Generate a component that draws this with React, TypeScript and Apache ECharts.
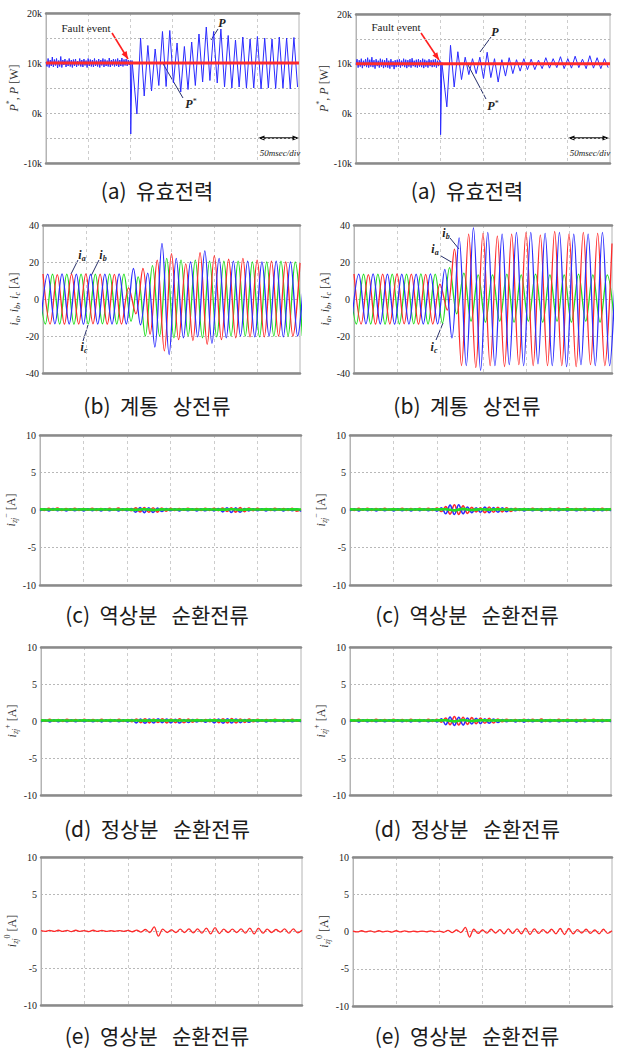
import React, { useEffect, useRef } from "react";
import * as echarts from "echarts";

// ================= DATA =================
// time axis in ms, 50 ms / div
const T_MIN = 0;
const T_MAX = 300;
const T_DIV = 50;

// ---- (a) active power, kW ----
const pRefLeft = [10, 10];
const pRefRight = [10, 10];
// pre-fault ripple of P, 0..100 ms
const pPreLeft = [
  10.2, 9.3, 10.9, 9.1, 10.6, 9.4, 11.2, 9.2, 10.7, 9.5,
  10.9, 9.0, 10.5, 9.3, 11.3, 9.1, 10.6, 9.6, 10.8, 9.2,
  10.5, 9.4, 10.9, 9.3, 10.6, 9.1, 10.7, 9.4, 10.8, 9.2,
  10.4, 9.5, 10.9, 9.3, 10.6, 9.2, 10.8, 9.5, 10.5, 9.1,
  10.9, 9.4, 10.7, 9.3, 10.6, 9.2, 10.9, 9.4, 10.5, 9.3,
  10.8, 9.1, 10.6, 9.5, 10.9, 9.2, 10.7, 9.4, 10.5, 9.3,
  11.0, 9.2, 10.6, 9.5, 10.8, 9.3, 10.7, 9.4, 10.9, 9.2,
  10.6, 9.4, 11.0, 9.3, 10.7, 9.5, 10.8, 9.4, 10.6, 9.6,
  10.5,
];
const pSpikeLeft = [-4.2, 10.5];
// post-fault oscillation extremes of P (trough, peak, ...)
const pPostLeft = [
  -0.2, 15.0, 3.4, 13.5, 4.4, 12.8, 5.5, 16.3, 5.3, 16.5,
  6.0, 14.0, 4.2, 13.3, 4.7, 14.2, 5.5, 15.8, 6.2, 17.2,
  6.5, 16.3, 6.0, 16.8, 5.2, 15.5, 5.0, 14.6, 5.2, 15.2,
  5.0, 14.8, 5.0, 15.3, 4.8, 15.0, 5.0, 14.8, 4.9, 15.2,
  5.0, 15.0, 4.8, 15.1, 5.2,
];
const pPreRight = [
  9.8, 10.9, 9.2, 10.7, 9.4, 11.0, 9.1, 10.6, 9.5, 10.9,
  9.3, 11.2, 9.2, 10.8, 9.4, 11.3, 9.3, 10.7, 9.0, 10.9,
  9.5, 10.6, 9.2, 11.0, 9.4, 10.8, 9.1, 10.7, 9.3, 11.1,
  9.2, 10.6, 9.0, 10.9, 9.4, 10.5, 8.9, 10.7, 9.3, 10.8,
  9.4, 10.9, 9.2, 10.6, 9.5, 11.0, 9.3, 10.8, 9.1, 10.7,
  9.4, 10.9, 9.2, 11.1, 9.5, 10.6, 9.3, 10.8, 9.2, 10.9,
  9.4, 10.7, 9.3, 11.0, 9.1, 10.8, 9.4, 10.6, 9.2, 10.9,
  9.5, 10.7, 9.3, 10.8, 9.4, 10.9, 9.2, 10.6, 9.5, 10.7,
  10.4,
];
const pSpikeRight = [-4.3, 10.2];
const pPostRight = [
  1.3, 13.7, 5.3, 12.4, 6.8, 11.3, 7.8, 11.0, 8.0, 11.3,
  7.0, 12.3, 7.2, 11.0, 6.3, 10.8, 7.5, 11.2, 8.0, 10.8,
  8.5, 11.0, 8.8, 10.9, 8.8, 10.7, 9.0, 11.2, 9.1, 11.0,
  9.2, 11.4, 9.0, 11.0, 9.1, 11.5, 9.2, 10.9, 9.0, 11.6,
  9.1, 11.2, 9.0, 11.0, 9.2,
];
// segment time bounds (ms)
const pPreSpan = [0, 100];
const pSpikeSpanL = [100.5, 102];
const pPostSpanL = [107.8, 298.3];
const pSpikeSpanR = [99.9, 101.4];
const pPostSpanR = [107.3, 297.8];

// ---- (b) grid phase currents, A : successive extremes every half cycle (60 Hz) ----
const iaSpan = [0, 300];
const ibSpan = [-2.78, 305.56];
const icSpan = [-5.56, 302.78];
const iaLeft = [
  13.5, -13.5, 13.2, -13.6, 13.4, -13.5, 13.6, -13.4, 13.5, -13.6, 13.3, -13.5,
  6, -8, 16.5, -19, 21, -28, 24.5, -22, 19, -22.5, 25, -24.5, 23.5, -22, 21.5,
  -21, 22, -20.5, 21, -20.5, 20.5, -20, 20, -20, 19.5,
];
const ibLeft = [
  -13.5, 13.5, -13.4, 13.6, -13.5, 13.4, -13.6, 13.5, -13.5, 13.4, -13.5, 13.6, -13.5,
  16.5, -14, 14, -26, 30, -30, 22, -21, 20, -20.5, 26, -24, 22, -21, 20.5, -20,
  20.5, -20.5, 20, -20, 20.5, -20.5, 20, -20, 20,
];
const icLeft = [
  13.5, -13.5, 13.5, -13.5, 13.4, -13.6, 13.5, -13.5, 13.5, -13.4, 13.6, -13.5, 13.5,
  -12, 12, -20, 18, -20, 22, -21, 21, -20, 21, -21, 20.5, -20.5, 20.5, -20, 20.5,
  -20, 20, -20.5, 20, -20, 20.5, -20, 20, -20,
];
const iaRight = [
  13.5, -13.5, 13.2, -13.6, 13.4, -13.5, 13.6, -13.4, 13.5, -13.6, 13.3, -13.5,
  8, -6, 27, -36, 35, -37, 35.5, -36, 34, -36.5, 35, -35.5, 36, -36, 34.5, -36,
  36.5, -36, 35, -36.5, 36, -35.5, 35.5, -36, 30,
];
const ibRight = [
  -13.5, 13.5, -13.4, 13.6, -13.5, 13.4, -13.6, 13.5, -13.5, 13.4, -13.5, 13.6, -13.5,
  16, -21, 33, -36, 38.5, -38.5, 36, -36, 35, -35.5, 36, -36, 36, -35, 35.5, -36,
  36, -36.5, 35, -35.5, 35, -36, 36, -36, 35,
];
const icRight = [
  13.5, -13.5, 13.5, -13.5, 13.4, -13.6, 13.5, -13.5, 13.5, -13.4, 13.6, -13.5, 13.5,
  -13, 17, -8, 14, -12, 13, -12.5, 13, -12, 13.5, -12.5, 13, -12, 13.5, -12.5, 13,
  -12, 13, -12.5, 13.5, -12, 13, -12.5, 13, -12,
];

// ---- (c),(d) circulating current components, A (samples every 5 ms; green every 10 ms) ----
const circSpan = [0, 300];
const cRedLeft = [
  0.2, -0.05, 0.22, -0.02, 0.25, -0.06, 0.2, -0.03, 0.23, -0.05,
  0.21, -0.02, 0.24, -0.06, 0.2, -0.04, 0.22, -0.03, 0.25, -0.05,
  0.21, -0.08, 0.28, -0.25, 0.32, -0.3, 0.3, -0.28, 0.26, -0.15,
  0.22, -0.05, 0.2, -0.04, 0.23, -0.03, 0.21, -0.06, 0.24, -0.05,
  0.22, -0.08, 0.25, -0.2, 0.3, -0.28, 0.32, -0.22, 0.25, -0.08,
  0.22, -0.04, 0.2, -0.05, 0.23, -0.03, 0.21, -0.06, 0.24, -0.15, 0.1,
];
const cBlueLeft = [
  -0.1, 0.15, -0.12, 0.18, -0.08, 0.14, -0.12, 0.16, -0.1, 0.15,
  -0.12, 0.17, -0.09, 0.15, -0.11, 0.16, -0.1, 0.14, -0.12, 0.15,
  -0.1, 0.2, -0.3, 0.32, -0.35, 0.3, -0.32, 0.25, -0.2, 0.18,
  -0.1, 0.15, -0.12, 0.16, -0.09, 0.15, -0.11, 0.17, -0.1, 0.15,
  -0.12, 0.18, -0.25, 0.3, -0.32, 0.28, -0.3, 0.2, -0.12, 0.15,
  -0.1, 0.16, -0.12, 0.15, -0.09, 0.17, -0.11, 0.15, -0.1, 0.16, -0.2,
];
const cGreenLeft = [
  0.08, 0.06, 0.08, 0.07, 0.06, 0.08, 0.07, 0.08, 0.06, 0.07, 0.08, 0.02, 0.1, 0.0, 0.08,
  0.07, 0.06, 0.08, 0.07, 0.08, 0.06, 0.05, 0.1, 0.02, 0.08, 0.07, 0.08, 0.06, 0.07, 0.08, 0.06,
];
const cRedRight = [
  0.2, -0.05, 0.22, -0.02, 0.24, -0.05, 0.2, -0.03, 0.23, -0.04,
  0.21, -0.03, 0.24, -0.05, 0.2, -0.04, 0.22, -0.03, 0.24, -0.05,
  0.25, -0.2, 0.45, -0.55, 0.7, -0.6, 0.55, -0.45, 0.35, -0.25,
  0.3, -0.35, 0.4, -0.3, 0.35, -0.25, 0.3, -0.2, 0.22, -0.05,
  0.2, -0.04, 0.23, -0.03, 0.21, -0.06, 0.24, -0.05, 0.22, -0.04,
  0.25, -0.03, 0.21, -0.05, 0.23, -0.04, 0.2, -0.06, 0.24, -0.05, 0.2,
];
const cBlueRight = [
  -0.1, 0.15, -0.12, 0.17, -0.09, 0.15, -0.11, 0.16, -0.1, 0.14,
  -0.12, 0.16, -0.1, 0.15, -0.11, 0.17, -0.09, 0.15, -0.1, 0.16,
  -0.15, 0.3, -0.5, 0.65, -0.6, 0.7, -0.5, 0.4, -0.35, 0.3,
  -0.3, 0.38, -0.35, 0.32, -0.3, 0.28, -0.22, 0.2, -0.1, 0.15,
  -0.12, 0.16, -0.1, 0.15, -0.11, 0.17, -0.09, 0.15, -0.1, 0.16,
  -0.12, 0.15, -0.1, 0.17, -0.09, 0.15, -0.11, 0.16, -0.1, 0.15, -0.1,
];
const cGreenRight = [
  0.08, 0.07, 0.08, 0.06, 0.07, 0.08, 0.07, 0.06, 0.08, 0.07, 0.08, 0.1, -0.05, 0.15, 0.0,
  0.1, 0.05, 0.08, 0.06, 0.07, 0.08, 0.07, 0.06, 0.08, 0.07, 0.08, 0.06, 0.07, 0.08, 0.07, 0.08,
];
const dRedLeft = [
  0.2, -0.04, 0.22, -0.03, 0.2, -0.05, 0.23, -0.02, 0.21, -0.04,
  0.22, -0.03, 0.2, -0.05, 0.22, -0.03, 0.21, -0.04, 0.23, -0.05,
  0.2, -0.08, 0.28, -0.22, 0.3, -0.25, 0.28, -0.2, 0.3, -0.25,
  0.26, -0.22, 0.3, -0.24, 0.25, -0.15, 0.22, -0.06, 0.2, -0.1,
  0.28, -0.22, 0.3, -0.26, 0.32, -0.25, 0.28, -0.18, 0.25, -0.1,
  0.22, -0.04, 0.2, -0.05, 0.23, -0.03, 0.21, -0.05, 0.22, -0.04, 0.2,
];
const dBlueLeft = [
  -0.1, 0.14, -0.12, 0.16, -0.09, 0.15, -0.11, 0.16, -0.1, 0.15,
  -0.11, 0.16, -0.1, 0.14, -0.12, 0.15, -0.1, 0.16, -0.11, 0.15,
  -0.12, 0.2, -0.25, 0.28, -0.3, 0.25, -0.28, 0.3, -0.22, 0.26,
  -0.25, 0.22, -0.28, 0.2, -0.2, 0.18, -0.12, 0.15, -0.15, 0.22,
  -0.25, 0.28, -0.3, 0.3, -0.28, 0.25, -0.22, 0.2, -0.15, 0.15,
  -0.1, 0.16, -0.12, 0.15, -0.1, 0.14, -0.11, 0.16, -0.1, 0.15, -0.1,
];
const dGreenLeft = [
  0.08, 0.07, 0.08, 0.06, 0.07, 0.08, 0.07, 0.06, 0.08, 0.07, 0.08, 0.07, 0.05, 0.09, 0.06,
  0.08, 0.07, 0.06, 0.08, 0.07, 0.09, 0.05, 0.08, 0.07, 0.06, 0.08, 0.07, 0.08, 0.06, 0.07, 0.08,
];
const dRedRight = [
  0.2, -0.04, 0.22, -0.03, 0.2, -0.05, 0.23, -0.02, 0.21, -0.04,
  0.22, -0.03, 0.2, -0.05, 0.22, -0.03, 0.21, -0.04, 0.23, -0.05,
  0.22, -0.15, 0.4, -0.5, 0.6, -0.55, 0.5, -0.45, 0.45, -0.35,
  0.4, -0.3, 0.35, -0.28, 0.26, -0.1, 0.22, -0.04, 0.2, -0.05,
  0.24, -0.06, 0.22, -0.04, 0.25, -0.05, 0.2, -0.03, 0.22, -0.05,
  0.23, -0.04, 0.2, -0.06, 0.22, -0.03, 0.24, -0.05, 0.21, -0.04, 0.2,
];
const dBlueRight = [
  -0.1, 0.14, -0.12, 0.16, -0.09, 0.15, -0.11, 0.16, -0.1, 0.15,
  -0.11, 0.16, -0.1, 0.14, -0.12, 0.15, -0.1, 0.16, -0.11, 0.15,
  -0.12, 0.3, -0.5, 0.55, -0.6, 0.5, -0.55, 0.4, -0.4, 0.35,
  -0.35, 0.3, -0.3, 0.25, -0.2, 0.18, -0.1, 0.15, -0.12, 0.16,
  -0.15, 0.18, -0.1, 0.15, -0.12, 0.16, -0.1, 0.15, -0.11, 0.17,
  -0.1, 0.15, -0.12, 0.16, -0.1, 0.14, -0.11, 0.16, -0.1, 0.15, -0.1,
];
const dGreenRight = [
  0.08, 0.07, 0.08, 0.06, 0.07, 0.08, 0.07, 0.06, 0.08, 0.07, 0.08, 0.1, -0.05, 0.14, 0.0,
  0.1, 0.06, 0.08, 0.06, 0.07, 0.08, 0.07, 0.06, 0.08, 0.07, 0.08, 0.06, 0.07, 0.08, 0.07, 0.08,
];

// ---- (e) zero-sequence circulating current, A (extremes every 5 ms) ----
const eLeft = [
  0.05, -0.05, 0.08, -0.06, 0.1, -0.05, 0.08, -0.08, 0.1, -0.05,
  0.06, -0.08, 0.1, -0.05, 0.08, -0.06, 0.05, -0.05, 0.06, -0.05,
  0.08, -0.1, 0.12, -0.15, 0.2, -0.2, 0.55, -0.7, 0.25, -0.2,
  0.15, -0.2, 0.25, -0.2, 0.3, -0.25, 0.3, -0.3, 0.4, -0.4,
  0.45, -0.35, 0.25, -0.2, 0.25, -0.2, 0.3, -0.3, 0.4, -0.4,
  0.4, -0.3, 0.25, -0.2, 0.2, -0.15, 0.3, -0.3, 0.3, -0.25, 0.1,
];
const eRight = [
  0.05, -0.06, 0.1, -0.05, 0.08, -0.08, 0.1, -0.05, 0.06, -0.08,
  0.1, -0.05, 0.08, -0.06, 0.05, -0.05, 0.06, -0.05, 0.08, -0.06,
  0.06, -0.1, 0.15, -0.15, 0.2, -0.15, 0.55, -0.75, 0.3, -0.25,
  0.2, -0.22, 0.3, -0.2, 0.25, -0.3, 0.35, -0.25, 0.35, -0.3,
  0.45, -0.4, 0.35, -0.25, 0.25, -0.2, 0.3, -0.3, 0.4, -0.4,
  0.4, -0.3, 0.25, -0.2, 0.3, -0.25, 0.2, -0.3, 0.3, -0.25, 0.1,
];

const captions = [
  "(a)  유효전력",
  "(b)  계통   상전류",
  "(c)  역상분   순환전류",
  "(d)  정상분   순환전류",
  "(e)  영상분   순환전류",
];

// ================= LAYOUT / STYLE =================
const W = 617;
const H = 1051;
const PANELS = [
  { l: 46, t: 13, w: 253, h: 150 }, { l: 356, t: 14, w: 254, h: 149 },
  { l: 43, t: 225, w: 257, h: 148 }, { l: 354, t: 225, w: 258, h: 148 },
  { l: 40, t: 435, w: 261, h: 150 }, { l: 350, t: 435, w: 261, h: 150 },
  { l: 41, t: 647, w: 260, h: 148 }, { l: 350, t: 647, w: 261, h: 148 },
  { l: 41, t: 857, w: 261, h: 148 }, { l: 353, t: 857, w: 259, h: 149 },
];
const CAPTION_Y = [190, 405, 614, 828, 1035];
const CAPTION_X = [157, 467];
const SERIF = "'Liberation Serif', 'DejaVu Serif', serif";
const KR = "'Noto Sans CJK KR', 'Noto Sans', sans-serif";
const RED = "#ff2a2a";
const BLUE = "#2b2bff";
const GREEN = "#22dd22";
const FRAME = "#8a8a8a";

const seg = (span: number[], vals: number[]) =>
  vals.map((v, i) => [span[0] + ((span[1] - span[0]) * i) / Math.max(1, vals.length - 1), v]);

const richName = {
  i: { fontStyle: "italic", fontSize: 12, fontFamily: SERIF, color: "#333" },
  sub: { fontStyle: "italic", fontSize: 8, fontFamily: SERIF, color: "#333", verticalAlign: "bottom", lineHeight: 16 },
  sup: { fontSize: 8, fontFamily: SERIF, color: "#333", verticalAlign: "top", lineHeight: 16 },
  n: { fontSize: 12, fontFamily: SERIF, color: "#333" },
};

const ROWS = [
  {
    min: -10, max: 20, interval: 5,
    fmt: (v: number) => (v % 10 === 0 ? `${v}k` : ""),
    name: "{i|P}{sup|*}{n|, }{i|P}{n| [W]}", gap: 17,
  },
  { min: -40, max: 40, interval: 20, fmt: (v: number) => `${v}`, name: "{i|i}{sub|a}{n|, }{i|i}{sub|b}{n|, }{i|i}{sub|c}{n| [A]}", gap: 14 },
  { min: -10, max: 10, interval: 5, fmt: (v: number) => `${v}`, name: "{i|i}{sub|zj}{sup|−}{n| [A]}", gap: 10 },
  { min: -10, max: 10, interval: 5, fmt: (v: number) => `${v}`, name: "{i|i}{sub|zj}{sup|+}{n| [A]}", gap: 10 },
  { min: -10, max: 10, interval: 5, fmt: (v: number) => `${v}`, name: "{i|i}{sub|zj}{sup|0}{n| [A]}", gap: 9 },
];

function arrowHead(x1: number, y1: number, x2: number, y2: number, size: number, color: string) {
  const a = Math.atan2(y2 - y1, x2 - x1);
  return {
    type: "polygon",
    silent: true,
    shape: {
      points: [
        [x2, y2],
        [x2 - size * Math.cos(a - 0.38), y2 - size * Math.sin(a - 0.38)],
        [x2 - size * Math.cos(a + 0.38), y2 - size * Math.sin(a + 0.38)],
      ],
    },
    style: { fill: color },
  };
}
function seg2(x1: number, y1: number, x2: number, y2: number, color: string, width = 1) {
  return { type: "line", silent: true, shape: { x1, y1, x2, y2 }, style: { stroke: color, lineWidth: width } };
}
function txt(x: number, y: number, text: string, extra: any = {}) {
  return {
    type: "text",
    silent: true,
    x,
    y,
    style: {
      text,
      fill: "#222",
      fontFamily: SERIF,
      fontSize: 11,
      align: "center",
      verticalAlign: "middle",
      ...extra,
    },
  };
}
const labRich = {
  p: { fontStyle: "italic", fontWeight: "bold", fontSize: 12, fontFamily: SERIF, color: "#222" },
  i: { fontStyle: "italic", fontWeight: "bold", fontSize: 12, fontFamily: SERIF, color: "#222" },
  s: { fontSize: 8, fontFamily: SERIF, color: "#222", verticalAlign: "top", lineHeight: 14 },
  b: { fontStyle: "italic", fontWeight: "bold", fontSize: 8, fontFamily: SERIF, color: "#222", verticalAlign: "bottom", lineHeight: 14 },
};
const NAVY = "#27306a";

function annotations() {
  const g: any[] = [];
  // captions
  captions.forEach((c, r) => {
    CAPTION_X.forEach((x) => {
      g.push(txt(x, CAPTION_Y[r], c, { fontFamily: KR, fontSize: 21, fontWeight: "normal", fill: "#1b1b1b" }));
    });
  });
  // (a) annotations, left and right
  const aNotes = [
    { fx: 86, fy: 28, ar: [112, 33, 128, 59], p: [222, 23], pl: [218, 29, 211, 40], ps: [191, 104], psl: [183, 98, 162, 62], dx: [258, 299], dt: 280 },
    { fx: 396, fy: 27, ar: [421, 33, 439, 60], p: [495, 32], pl: [491, 37, 480, 52], ps: [493, 106], psl: [486, 99, 467, 63], dx: [568, 609], dt: 590 },
  ];
  aNotes.forEach((n) => {
    g.push(txt(n.fx, n.fy, "Fault event", { fontSize: 11 }));
    g.push(seg2(n.ar[0], n.ar[1], n.ar[2], n.ar[3], "#ff2020", 1.6));
    g.push(arrowHead(n.ar[0], n.ar[1], n.ar[2], n.ar[3], 8, "#ff2020"));
    g.push(txt(n.p[0], n.p[1], "{p|P}", { rich: labRich }));
    g.push(seg2(n.pl[0], n.pl[1], n.pl[2], n.pl[3], NAVY, 1));
    g.push(txt(n.ps[0], n.ps[1], "{p|P}{s|*}", { rich: labRich }));
    g.push(seg2(n.psl[0], n.psl[1], n.psl[2], n.psl[3], NAVY, 1));
    g.push(seg2(n.dx[0] + 2, 138, n.dx[1] - 2, 138, "#111", 1.5));
    g.push(arrowHead(n.dx[1], 138, n.dx[0], 138, 7, "#111"));
    g.push(arrowHead(n.dx[0], 138, n.dx[1], 138, 7, "#111"));
    g.push(txt(n.dt, 153, "50msec/div", { fontSize: 9, fontStyle: "italic" }));
  });
  // (b) labels
  const bNotes = [
    { t: "{i|i}{b|a}", x: 82, y: 255, l: [78, 260, 71, 274] },
    { t: "{i|i}{b|b}", x: 103, y: 255, l: [99, 260, 91, 276] },
    { t: "{i|i}{b|c}", x: 84, y: 347, l: [83, 341, 88, 325] },
    { t: "{i|i}{b|b}", x: 446, y: 233, l: [450, 238, 459, 249] },
    { t: "{i|i}{b|a}", x: 435, y: 249, l: [441, 256, 453, 263] },
    { t: "{i|i}{b|c}", x: 434, y: 347, l: [436, 340, 443, 323] },
  ];
  bNotes.forEach((n) => {
    g.push(txt(n.x, n.y, n.t, { rich: labRich }));
    g.push(seg2(n.l[0], n.l[1], n.l[2], n.l[3], NAVY, 1));
  });
  return g;
}

function buildOption() {
  const grid: any[] = [];
  const xAxis: any[] = [];
  const yAxis: any[] = [];
  const series: any[] = [];

  PANELS.forEach((p, k) => {
    const row = ROWS[Math.floor(k / 2)];
    grid.push({
      left: p.l, top: p.t, width: p.w, height: p.h,
      show: true, borderColor: "#b4b4b4", borderWidth: 1, backgroundColor: "transparent",
    });
    const xBase = {
      type: "value", gridIndex: k, min: T_MIN, max: T_MAX, interval: T_DIV,
      axisTick: { show: false }, axisLabel: { show: false },
      axisLine: { show: true, onZero: false, lineStyle: { color: FRAME, width: 2.5 } },
    };
    xAxis.push({
      ...xBase, position: "bottom",
      splitLine: {
        show: true, showMinLine: false, showMaxLine: false,
        lineStyle: { color: "#cdcdcd", type: [3, 3], width: 1 },
      },
    });
    xAxis.push({ ...xBase, position: "top", splitLine: { show: false } });
    yAxis.push({
      type: "value", gridIndex: k, min: row.min, max: row.max, interval: row.interval,
      axisLine: { show: true, onZero: false, lineStyle: { color: "#b4b4b4", width: 1 } },
      axisTick: { show: false },
      axisLabel: { formatter: row.fmt, fontFamily: SERIF, fontSize: 10, color: "#222", margin: 4 },
      splitLine: {
        show: true, showMinLine: false, showMaxLine: false,
        lineStyle: { color: "#b8b8b8", type: [2, 2], width: 1 },
      },
      name: row.name, nameLocation: "middle", nameRotate: 90, nameGap: row.gap,
      nameTextStyle: { rich: richName, fontFamily: SERIF, fontSize: 12, color: "#333" },
    });
  });

  const line = (k: number, data: number[][], color: string, width: number, smooth: number | boolean, z = 2) => ({
    type: "line", xAxisIndex: 2 * k, yAxisIndex: k, data, showSymbol: false, symbol: "none",
    silent: true, smooth, z, clip: true, lineStyle: { color, width }, emphasis: { disabled: true },
  });

  // (a)
  series.push(line(0, [...seg(pPreSpan, pPreLeft), ...seg(pSpikeSpanL, pSpikeLeft), ...seg(pPostSpanL, pPostLeft)], BLUE, 1, false));
  series.push(line(0, seg([T_MIN, T_MAX], pRefLeft), RED, 3, false, 3));
  series.push(line(1, [...seg(pPreSpan, pPreRight), ...seg(pSpikeSpanR, pSpikeRight), ...seg(pPostSpanR, pPostRight)], BLUE, 1, false));
  series.push(line(1, seg([T_MIN, T_MAX], pRefRight), RED, 3, false, 3));
  // (b)
  const SM = 0.36;
  series.push(line(2, seg(icSpan, icLeft), GREEN, 1.3, SM));
  series.push(line(2, seg(iaSpan, iaLeft), RED, 1.3, SM));
  series.push(line(2, seg(ibSpan, ibLeft), BLUE, 1.3, SM));
  series.push(line(3, seg(icSpan, icRight), GREEN, 1.3, SM));
  series.push(line(3, seg(iaSpan, iaRight), RED, 1.3, SM));
  series.push(line(3, seg(ibSpan, ibRight), BLUE, 1.3, SM));
  // (c),(d)
  const circ: [number, number[], number[], number[]][] = [
    [4, cRedLeft, cBlueLeft, cGreenLeft],
    [5, cRedRight, cBlueRight, cGreenRight],
    [6, dRedLeft, dBlueLeft, dGreenLeft],
    [7, dRedRight, dBlueRight, dGreenRight],
  ];
  circ.forEach(([k, r, b, gr]) => {
    series.push(line(k, seg(circSpan, r), RED, 1.6, SM));
    series.push(line(k, seg(circSpan, b), BLUE, 1.6, SM));
    series.push(line(k, seg(circSpan, gr), GREEN, 2.6, SM, 3));
  });
  // (e)
  series.push(line(8, seg(circSpan, eLeft), RED, 1.3, SM));
  series.push(line(9, seg(circSpan, eRight), RED, 1.3, SM));

  return {
    animation: false,
    backgroundColor: "#ffffff",
    textStyle: { fontFamily: SERIF },
    grid, xAxis, yAxis, series,
    graphic: { elements: annotations() },
  };
}

export default function App() {
  const ref = useRef<HTMLDivElement>(null);
  useEffect(() => {
    if (!ref.current) return;
    const chart = echarts.init(ref.current, undefined, { renderer: "svg", width: W, height: H });
    chart.setOption(buildOption() as any);
    return () => chart.dispose();
  }, []);
  return (
    <div
      ref={ref}
      style={{ position: "absolute", left: 0, top: 0, width: W, height: H, background: "#fff" }}
    />
  );
}
